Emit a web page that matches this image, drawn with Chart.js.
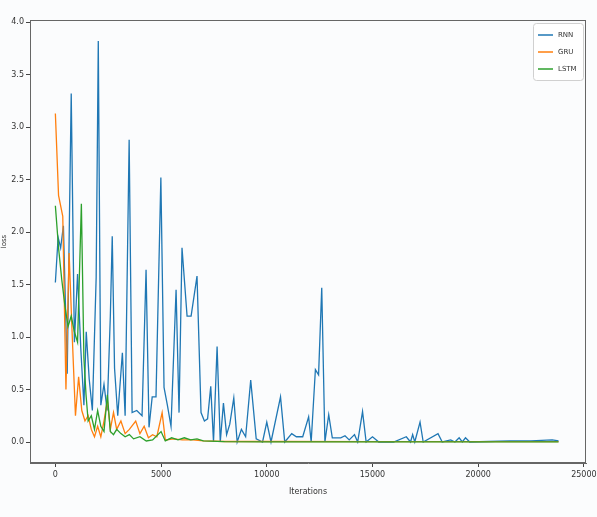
<!DOCTYPE html>
<html>
<head>
<meta charset="utf-8">
<script src="https://cdn.jsdelivr.net/npm/chart.js@4.4.1/dist/chart.umd.min.js"></script>
<style>
  html, body { margin:0; padding:0; background:#fbfcfd; }
  #wrap { width:597px; height:517px; position:relative; }
</style>
</head>
<body>
<div id="wrap"><canvas id="lossChart" width="597" height="517"></canvas></div>
<script>
/* =====================
   data
===================== */
const xTicks = [0, 5000, 10000, 15000, 20000, 25000];
const yTicks = [0.0, 0.5, 1.0, 1.5, 2.0, 2.5, 3.0, 3.5, 4.0];

const rnnIters = [0,130,250,380,560,750,900,1050,1200,1350,1460,1600,1750,1930,2030,2150,2300,2450,2600,2690,2800,2950,3170,3300,3490,3630,3850,4100,4290,4430,4580,4760,4990,5140,5300,5470,5710,5850,5990,6230,6420,6700,6890,7050,7200,7350,7480,7650,7800,7950,8100,8250,8440,8600,8800,9000,9240,9500,9800,10000,10200,10650,10850,11180,11400,11700,11980,12100,12300,12450,12600,12750,12930,13100,13500,13700,13900,14150,14300,14530,14700,15000,15300,16000,16600,16800,16900,17000,17250,17400,18100,18300,18700,18900,19100,19250,19400,19600,20500,21500,22500,23500,23800];
const rnnLoss  = [1.52,1.95,1.85,2.06,0.65,3.32,0.95,1.6,0.9,0.35,1.05,0.6,0.3,1.57,3.82,0.35,0.55,0.3,1.2,1.96,0.7,0.25,0.85,0.25,2.88,0.28,0.3,0.25,1.64,0.14,0.43,0.43,2.52,0.52,0.35,0.15,1.45,0.28,1.85,1.2,1.2,1.58,0.28,0.2,0.22,0.53,0.0,0.91,0.0,0.37,0.07,0.17,0.42,0.0,0.12,0.05,0.59,0.03,0.0,0.19,0.0,0.43,0.0,0.08,0.05,0.05,0.24,0.0,0.69,0.64,1.47,0.0,0.26,0.04,0.04,0.06,0.02,0.07,0.0,0.29,0.0,0.05,0.0,0.0,0.05,0.0,0.07,0.0,0.19,0.0,0.08,0.0,0.02,0.0,0.04,0.0,0.04,0.0,0.005,0.01,0.01,0.02,0.01];

const gruIters = [0,150,350,500,650,800,950,1100,1250,1400,1550,1700,1850,2000,2150,2300,2460,2600,2750,2900,3100,3300,3500,3800,4000,4200,4400,4600,4800,5050,5200,5600,6000,6500,7000,8000,10000,15000,20000,23800];
const gruLoss  = [3.13,2.35,2.15,0.5,1.8,1.0,0.25,0.62,0.3,0.2,0.25,0.12,0.05,0.15,0.05,0.2,0.4,0.12,0.28,0.12,0.2,0.08,0.12,0.2,0.08,0.15,0.04,0.07,0.05,0.28,0.02,0.03,0.02,0.02,0.01,0.005,0.005,0.003,0.003,0.003];

const lstmIters = [0,150,300,450,600,750,900,1050,1230,1350,1450,1550,1700,1850,2000,2150,2300,2460,2600,2750,2900,3100,3300,3500,3700,4000,4300,4600,5000,5200,5500,5800,6100,6400,6700,7000,8000,10000,15000,20000,23800];
const lstmLoss  = [2.25,1.85,1.55,1.3,1.1,1.2,1.05,0.95,2.27,0.8,0.45,0.2,0.25,0.12,0.3,0.15,0.1,0.45,0.1,0.07,0.12,0.08,0.05,0.07,0.03,0.05,0.01,0.02,0.1,0.01,0.04,0.02,0.04,0.02,0.03,0.01,0.003,0.002,0.002,0.002,0.002];

const seriesNames = ["RNN", "GRU", "LSTM"];
const seriesColors = ["#1f77b4", "#ff7f0e", "#2ca02c"];

const FONT = "'DejaVu Sans', sans-serif";

function toPoints(xs, ys){
  return xs.map((x, i) => ({ x: x, y: ys[i] }));
}

/* =====================
   plugins: frame + inner legend
===================== */
const framePlugin = {
  id: "frame",
  beforeDraw(chart){
    const { ctx } = chart;
    ctx.save();
    ctx.fillStyle = "#fbfcfd";
    ctx.fillRect(0, 0, chart.width, chart.height);
    ctx.restore();
  },
  afterDraw(chart){
    const { ctx, chartArea: a } = chart;
    ctx.save();
    ctx.strokeStyle = "#666";
    ctx.lineWidth = 1;
    ctx.strokeRect(a.left + 0.5, a.top + 0.5, a.right - a.left - 1, a.bottom - a.top - 1);
    ctx.restore();
  }
};

const boxLegend = {
  id: "boxLegend",
  afterDraw(chart){
    const { ctx, chartArea: a } = chart;
    const sets = chart.data.datasets;
    const w = 50, rowH = 17, h = sets.length * rowH + 6;
    const x0 = a.right - w - 3, y0 = a.top + 3;
    ctx.save();
    ctx.fillStyle = "rgba(255,255,255,0.85)";
    ctx.strokeStyle = "#d0d0d0";
    ctx.lineWidth = 1;
    ctx.beginPath();
    ctx.roundRect(x0 + 0.5, y0 + 0.5, w, h, 3);
    ctx.fill();
    ctx.stroke();
    ctx.font = "7px " + FONT;
    ctx.textBaseline = "middle";
    sets.forEach((ds, i) => {
      const y = y0 + 12 + i * rowH;
      ctx.strokeStyle = ds.borderColor;
      ctx.lineWidth = 1.5;
      ctx.beginPath();
      ctx.moveTo(x0 + 5, y);
      ctx.lineTo(x0 + 20, y);
      ctx.stroke();
      ctx.fillStyle = "#333";
      ctx.fillText(ds.label, x0 + 25, y);
    });
    ctx.restore();
  }
};

/* =====================
   chart
===================== */
const datasets = [
  { label: seriesNames[0], data: toPoints(rnnIters, rnnLoss), borderColor: seriesColors[0], order: 3 },
  { label: seriesNames[1], data: toPoints(gruIters, gruLoss), borderColor: seriesColors[1], order: 2 },
  { label: seriesNames[2], data: toPoints(lstmIters, lstmLoss), borderColor: seriesColors[2], order: 1 }
].map(d => Object.assign(d, { borderWidth: 1.3, pointRadius: 0, tension: 0, fill: false }));

const ctx = document.getElementById("lossChart").getContext("2d");
new Chart(ctx, {
  type: "line",
  data: { datasets: datasets },
  options: {
    responsive: false,
    animation: false,
    layout: { padding: { top: 20, right: 11, left: 0, bottom: 0 } },
    plugins: { legend: { display: false }, tooltip: { enabled: false } },
    scales: {
      x: {
        type: "linear",
        min: -1200,
        max: 25100,
        afterBuildTicks: s => { s.ticks = xTicks.map(v => ({ value: v })); },
        afterFit: s => { s.height = 54; s.paddingLeft = 0; s.paddingRight = 0; },
        ticks: { font: { family: FONT, size: 8 }, color: "#333", padding: 3, maxRotation: 0, callback: v => String(v) },
        grid: { drawOnChartArea: false, drawTicks: true, tickLength: 4, color: "#444" },
        border: { display: true, color: "#666" },
        title: { display: true, text: "Iterations", font: { family: FONT, size: 8 }, color: "#333", padding: { top: 4, bottom: 20 } }
      },
      y: {
        min: -0.2,
        max: 4.02,
        afterBuildTicks: s => { s.ticks = yTicks.map(v => ({ value: v })); },
        afterFit: s => { s.width = 30; s.paddingTop = 0; s.paddingBottom = 0; },
        ticks: { font: { family: FONT, size: 8 }, color: "#333", padding: 2, callback: v => v.toFixed(1) },
        grid: { drawOnChartArea: false, drawTicks: true, tickLength: 4, color: "#444" },
        border: { display: true, color: "#666" },
        title: { display: true, text: "loss", font: { family: FONT, size: 7 }, color: "#333", padding: { top: 0, bottom: 0 } }
      }
    }
  },
  plugins: [framePlugin, boxLegend]
});
</script>
</body>
</html>
